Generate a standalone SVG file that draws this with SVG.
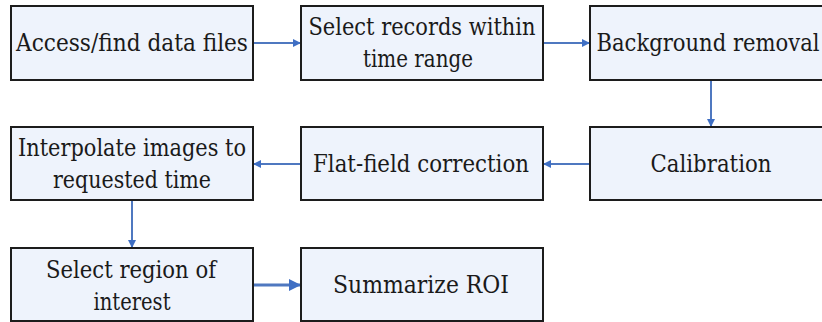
<svg xmlns="http://www.w3.org/2000/svg" width="822" height="322" viewBox="0 0 822 322">
  <style>
    .box { fill: #eef3fc; stroke: #1c1c1c; stroke-width: 2; }
    .lbl { font-family: "DejaVu Serif", serif; font-size: 24px; fill: #1a1a1a; text-anchor: middle; }
    .conn { stroke: #4f78c0; stroke-width: 2; fill: none; marker-end: url(#arrow); }
  </style>
  <defs>
    <marker id="arrow" viewBox="0 0 10 10" refX="10" refY="5" markerWidth="4.5" markerHeight="4" orient="auto" markerUnits="strokeWidth">
      <path d="M0,0 L10,5 L0,10 Z" fill="#3f6fc4"/>
    </marker>
  </defs>
  <rect width="822" height="322" fill="#ffffff"/>

  <g id="connectors">
    <line class="conn" x1="253" y1="43" x2="301" y2="43"/>
    <line class="conn" x1="543" y1="43" x2="590" y2="43"/>
    <line class="conn" x1="711" y1="80" x2="711" y2="127"/>
    <line class="conn" x1="590" y1="164" x2="543" y2="164"/>
    <line class="conn" x1="301" y1="164" x2="253" y2="164"/>
    <line class="conn" x1="132" y1="200" x2="132" y2="248"/>
    <line class="conn" x1="253" y1="285" x2="301" y2="285" style="stroke-width:3"/>
  </g>

  <g id="access">
    <rect class="box" x="11" y="6" width="242" height="74"/>
    <text class="lbl" x="132" y="51" textLength="232" lengthAdjust="spacingAndGlyphs">Access/find data files</text>
  </g>
  <g id="select-records">
    <rect class="box" x="301" y="6" width="242" height="74"/>
    <text class="lbl" x="422" y="35" textLength="227" lengthAdjust="spacingAndGlyphs">Select records within</text>
    <text class="lbl" x="418" y="67" textLength="110" lengthAdjust="spacingAndGlyphs">time range</text>
  </g>
  <g id="background">
    <rect class="box" x="590" y="6" width="242" height="74"/>
    <text class="lbl" x="708" y="51" textLength="223" lengthAdjust="spacingAndGlyphs">Background removal</text>
  </g>
  <g id="calibration">
    <rect class="box" x="590" y="127" width="242" height="73"/>
    <text class="lbl" x="711" y="172" textLength="121" lengthAdjust="spacingAndGlyphs">Calibration</text>
  </g>
  <g id="flat-field">
    <rect class="box" x="301" y="127" width="242" height="73"/>
    <text class="lbl" x="421" y="172" textLength="216" lengthAdjust="spacingAndGlyphs">Flat-field correction</text>
  </g>
  <g id="interpolate">
    <rect class="box" x="11" y="127" width="242" height="73"/>
    <text class="lbl" x="132" y="156" textLength="228" lengthAdjust="spacingAndGlyphs">Interpolate images to</text>
    <text class="lbl" x="132" y="188" textLength="158" lengthAdjust="spacingAndGlyphs">requested time</text>
  </g>
  <g id="select-region">
    <rect class="box" x="11" y="248" width="242" height="73"/>
    <text class="lbl" x="131" y="278" textLength="170" lengthAdjust="spacingAndGlyphs">Select region of</text>
    <text class="lbl" x="132" y="310" textLength="77" lengthAdjust="spacingAndGlyphs">interest</text>
  </g>
  <g id="summarize">
    <rect class="box" x="301" y="248" width="242" height="73"/>
    <text class="lbl" x="421" y="293" textLength="176" lengthAdjust="spacingAndGlyphs">Summarize ROI</text>
  </g>
</svg>
